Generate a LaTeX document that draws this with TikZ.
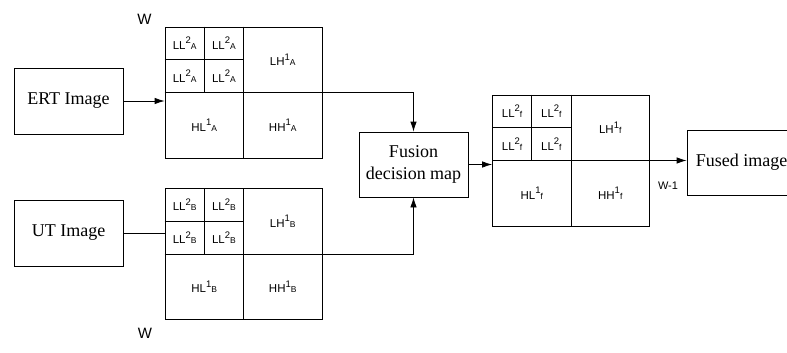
\documentclass[tikz,border=0pt]{standalone}
\usepackage{fontspec}
\setmainfont{Liberation Serif}
\setsansfont{Liberation Sans}
\usetikzlibrary{arrows.meta, calc, math, positioning}

% band name, level and source image
\newcommand{\band}[3]{#1\raisebox{5.5pt}{\fontsize{9.5}{9.5}\selectfont#2}{\fontsize{8.5}{8.5}\selectfont#3}}

\tikzset{
  imgbox/.style={draw, line width=0.8pt, minimum width=109pt, minimum height=66pt,
    inner sep=0pt, align=center, font=\fontsize{18}{22.5}\selectfont},
  bandbox/.style={draw, line width=0.8pt, minimum width=157pt, minimum height=131pt, inner sep=0pt},
  coef/.style={inner sep=0pt, font=\sffamily\fontsize{11.5}{13}\selectfont},
  wlabel/.style={inner sep=0pt, font=\sffamily\fontsize{15}{17}\selectfont},
  wire/.style={line width=0.8pt},
  arr/.style={wire, -{Latex[length=10pt,width=6.5pt]}},
}

\begin{document}
\begin{tikzpicture}[x=1pt,y=-1pt]
\tikzmath{
\bw=157;
\bh=131;
}
\useasboundingbox (0,0) rectangle (787,353);

\node[imgbox] (ert) at (68.5,101) {ERT Image};
\node[imgbox] (ut) at (68.5,233) {UT Image};
\node[imgbox, minimum height=65pt] (fus) at (413.5,164.5) {Fusion\\decision map};
\node[imgbox, minimum height=65pt] (fused) at (741.5,162.5) {Fused image};

% two level wavelet bands
\foreach \g/\cx/\cy/\s in {gA/243.5/92.5/A, gB/243.5/254/B, gF/571/160.5/f}{
  \node[bandbox] (\g) at (\cx,\cy) {};
  \draw[wire] (\g.north) -- (\g.south);
  \draw[wire] (\g.west) -- (\g.east);
  \draw[wire] ($(\g.north west)!0.5!(\g.north)$) -- ($(\g.west)!0.5!(\g.center)$);
  \draw[wire] ($(\g.north west)!0.5!(\g.west)$) -- ($(\g.north)!0.5!(\g.center)$);
  \foreach \i/\dx/\dy in {1/-3/-3, 2/-1/-3, 3/-3/-1, 4/-1/-1}
    \node[coef] (\g-ll\i) at (\cx+\dx*\bw/8,\cy+\dy*\bh/8) {\band{LL}{2}{\s}};
  \node[coef] (\g-lh) at (\cx+\bw/4,\cy-\bh/4) {\band{LH}{1}{\s}};
  \node[coef] (\g-hl) at (\cx-\bw/4,\cy+\bh/4) {\band{HL}{1}{\s}};
  \node[coef] (\g-hh) at (\cx+\bw/4,\cy+\bh/4) {\band{HH}{1}{\s}};
}

\node[wlabel] (wtop) at (144.5,19.5) {W};
\node[wlabel] (wbot) at (145,333) {W};
\node[coef, font=\sffamily\fontsize{11}{13}\selectfont] (winv) at (668,186) {W-1};

\draw[arr] (ert) -- (ert -| gA.west);
\draw[wire] (ut) -- (ut -| gB.west);
\draw[arr] (gA.east) -| (fus.north);
\draw[arr] (gB.east) -| (fus.south);
\draw[arr] (fus) -- (fus -| gF.west);
\draw[arr] (gF.east) -- (gF.east -| fused.west);
\end{tikzpicture}
\end{document}
